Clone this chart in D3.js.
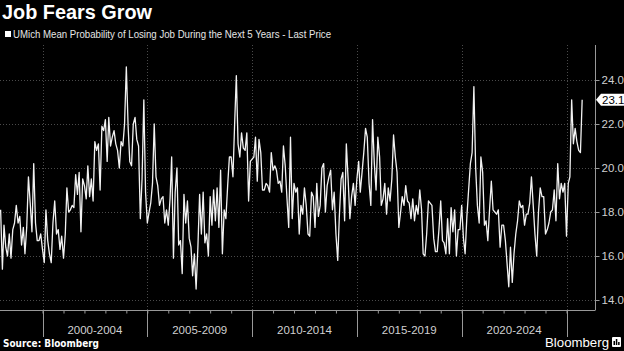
<!DOCTYPE html>
<html>
<head>
<meta charset="utf-8">
<script src="https://cdn.jsdelivr.net/npm/d3@7"></script>
<style>
  html, body { margin: 0; padding: 0; background: #000; }
  svg { display: block; }
</style>
</head>
<body>
<div id="chart"></div>
<script>
// monthly readings, Jan 1998 onwards (one row per year)
const values = [
  18.1, 15.4, 17.4, 16.4, 16.0, 17.0, 15.9, 17.2, 17.5, 18.3, 17.5, 17.8,
  16.5, 17.3, 16.1, 17.3, 19.6, 18.4, 17.1, 20.2, 17.5, 16.7, 16.7, 17.0,
  16.3, 15.7, 18.1, 16.7, 16.1, 15.7, 17.5, 18.5, 17.0, 17.2, 16.3, 16.9,
  15.9, 17.0, 19.1, 18.0, 18.1, 18.3, 18.2, 19.7, 18.8, 19.8, 17.1, 19.5,
  19.2, 18.6, 20.1, 18.7, 19.5, 18.5, 21.2, 20.8, 21.1, 19.0, 21.9, 21.7,
  22.2, 20.3, 22.3, 21.0, 21.4, 21.7, 21.1, 20.8, 20.0, 21.2, 21.0, 22.0,
  24.6, 21.9, 20.3, 20.1, 22.0, 22.3, 21.3, 21.0, 17.7, 19.5, 23.1, 18.9,
  17.5, 18.0, 18.4, 19.3, 22.0, 19.6, 19.2, 18.3, 18.6, 18.7, 17.5, 18.1,
  17.4, 18.6, 20.5, 15.9, 18.9, 20.0, 16.5, 16.7, 15.2, 18.8, 17.5, 18.5,
  16.8, 16.4, 15.1, 16.1, 14.5, 16.4, 18.8, 17.0, 18.9, 16.6, 17.0, 16.0,
  18.7, 17.4, 19.0, 17.6, 19.1, 17.3, 19.9, 16.1, 18.1, 17.7, 19.2, 20.5,
  20.5, 19.6, 21.9, 24.2, 21.1, 20.5, 21.6, 20.9, 20.8, 21.6, 18.5, 20.3,
  20.4, 20.5, 21.4, 19.4, 21.3, 20.7, 19.0, 19.0, 19.3, 19.2, 18.9, 20.7,
  19.9, 20.1, 19.9, 19.3, 19.4, 18.9, 21.0, 20.1, 18.6, 17.3, 21.4, 17.7,
  19.3, 18.9, 19.1, 17.0, 18.3, 17.9, 19.1, 18.3, 17.0, 16.9, 18.9, 18.7,
  17.3, 19.3, 17.8, 18.3, 20.0, 20.2, 18.0, 19.2, 19.6, 19.9, 18.1, 18.9,
  17.0, 15.8, 17.8, 19.5, 19.8, 17.6, 21.1, 19.5, 17.7, 18.7, 19.3, 18.3,
  19.5, 20.3, 18.9, 19.8, 20.7, 21.8, 21.4, 19.3, 18.3, 22.2, 20.2, 19.0,
  21.4, 20.5, 18.3, 18.6, 19.3, 17.9, 19.1, 18.5, 19.5, 21.5, 20.5, 19.8,
  17.3, 18.0, 18.7, 18.3, 19.2, 18.5, 18.4, 17.7, 18.6, 17.6, 18.3, 17.9,
  19.0, 18.1, 16.1, 16.0, 17.0, 18.5, 18.4, 18.3, 16.8, 16.2, 16.2, 17.2,
  18.5, 16.7, 16.6, 16.1, 17.7, 16.1, 18.2, 17.1, 18.1, 16.0, 17.2, 17.2,
  18.3, 16.8, 16.1, 17.8, 19.0, 20.2, 20.7, 23.7, 20.0, 18.3, 17.5, 20.5,
  19.8, 17.4, 17.6, 16.7, 18.1, 19.4, 18.1, 18.0, 17.9, 18.1, 16.4, 17.4,
  17.4, 16.7, 15.7, 14.6, 16.4, 14.8, 16.1, 17.0, 17.6, 18.5, 18.2, 18.3,
  17.4, 17.9, 17.9, 18.4, 19.6, 18.3, 17.0, 16.0, 18.0, 19.1, 18.7, 18.7,
  17.0, 17.2, 17.5, 18.0, 18.1, 19.0, 17.6, 20.2, 18.6, 19.3, 18.9, 19.3,
  16.9, 19.3, 19.6, 23.1, 21.1, 21.8, 21.2, 20.8, 20.7, 23.1
]
const start_year = 1998
const y_ticks = [14, 16, 18, 20, 22, 24]
const periods = ['2000-2004', '2005-2009', '2010-2014', '2015-2019', '2020-2024']
const period_starts = [2000, 2005, 2010, 2015, 2020, 2025]
const last_price = '23.1'

const width = 624, height = 351
const plot = { left: 0, right: 595, top: 45, bottom: 310 }

const data = values.map((v, i) => ({ date: new Date(start_year, i, 1), value: v }))

const svg = d3.select('#chart').append('svg')
    .attr('width', width)
    .attr('height', height)
    .style('font-family', '"Liberation Sans", Arial, sans-serif')

svg.append('rect').attr('width', width).attr('height', height).attr('fill', '#000')

// scales
const x = d3.scaleTime()
    .domain([new Date(2000, 0, 1), new Date(2025, 0, 1)])
    .range([42.5, 566.5])
const y = d3.scaleLinear().domain([14, 24]).range([300, 80])

// titles
svg.append('text')
    .attr('x', 2).attr('y', 19)
    .attr('fill', '#fff')
    .attr('font-size', 20).attr('font-weight', 'bold')
    .attr('textLength', 150).attr('lengthAdjust', 'spacingAndGlyphs')
    .text('Job Fears Grow')

svg.append('rect').attr('x', 5).attr('y', 31).attr('width', 6).attr('height', 6).attr('fill', '#fff')
svg.append('text')
    .attr('x', 13).attr('y', 38)
    .attr('fill', '#e6e6e6')
    .attr('font-size', 10.5)
    .attr('textLength', 318).attr('lengthAdjust', 'spacingAndGlyphs')
    .text('UMich Mean Probability of Losing Job During the Next 5 Years - Last Price')

// grid
const grid = svg.append('g')
    .attr('stroke', '#4a4a4a').attr('stroke-dasharray', '1,2').attr('stroke-width', 1)
grid.selectAll('.hgrid').data(y_ticks).join('line')
    .attr('x1', plot.left).attr('x2', plot.right)
    .attr('y1', d => Math.round(y(d)) + 0.5).attr('y2', d => Math.round(y(d)) + 0.5)
grid.selectAll('.vgrid').data(period_starts).join('line')
    .attr('x1', d => Math.round(x(new Date(d, 0, 1))) + 0.5)
    .attr('x2', d => Math.round(x(new Date(d, 0, 1))) + 0.5)
    .attr('y1', plot.top).attr('y2', plot.bottom)

// right axis
const y_axis = d3.axisRight(y)
    .tickValues(y_ticks)
    .tickSize(4)
    .tickPadding(2)
    .tickFormat(d3.format('.1f'))
svg.append('g')
    .attr('transform', 'translate(' + (plot.right + 0.5) + ',0)')
    .call(y_axis)
    .call(g => g.select('.domain').remove())
    .call(g => g.selectAll('line').attr('stroke', '#999'))
    .call(g => g.selectAll('text').attr('fill', '#d0d0d0').attr('font-size', 11.5)
        .attr('font-family', '"Liberation Sans", Arial, sans-serif'))
svg.append('line')
    .attr('x1', plot.right + 0.5).attr('x2', plot.right + 0.5)
    .attr('y1', plot.top).attr('y2', plot.bottom)
    .attr('stroke', '#999')

// bottom axis: yearly minor ticks, longer separators between periods
const x_axis = d3.axisBottom(x)
    .ticks(d3.timeYear.every(1))
    .tickSize(3)
    .tickFormat('')
svg.append('g')
    .attr('transform', 'translate(0,' + (plot.bottom + 0.5) + ')')
    .call(x_axis)
    .call(g => g.select('.domain').attr('stroke', '#999').attr('d', 'M0,0H' + (plot.right + 0.5)))
    .call(g => g.selectAll('line').attr('stroke', '#999'))

svg.selectAll('.sep').data(period_starts).join('line')
    .attr('x1', d => Math.round(x(new Date(d, 0, 1))) + 0.5)
    .attr('x2', d => Math.round(x(new Date(d, 0, 1))) + 0.5)
    .attr('y1', plot.bottom).attr('y2', 337)
    .attr('stroke', '#999')

svg.selectAll('.period').data(periods).join('text')
    .attr('x', (d, i) => (x(new Date(period_starts[i], 0, 1)) + x(new Date(period_starts[i + 1], 0, 1))) / 2)
    .attr('y', 334)
    .attr('text-anchor', 'middle')
    .attr('fill', '#d0d0d0')
    .attr('font-size', 11.5)
    .text(d => d)

// the series
svg.append('path')
    .datum(data)
    .attr('fill', 'none')
    .attr('stroke', '#f2f2f2')
    .attr('stroke-width', 1.3)
    .attr('stroke-linejoin', 'round')
    .attr('d', d3.line().x(d => x(d.date)).y(d => y(d.value)))

// last price tag
const last = data[data.length - 1]
const ly = y(last.value)
svg.append('path')
    .attr('d', 'M' + (plot.right + 1) + ',' + ly + 'L' + (plot.right + 6) + ',' + (ly - 6) +
        'H' + width + 'V' + (ly + 6) + 'H' + (plot.right + 6) + 'Z')
    .attr('fill', '#fff')
svg.append('text')
    .attr('x', plot.right + 7).attr('y', ly + 4)
    .attr('fill', '#000')
    .attr('font-size', 11.5)
    .text(last_price)

// footer
svg.append('text')
    .attr('x', 3).attr('y', 347)
    .attr('fill', '#fff')
    .attr('font-size', 10).attr('font-weight', 'bold')
    .attr('font-family', '"DejaVu Sans", sans-serif')
    .attr('textLength', 96).attr('lengthAdjust', 'spacingAndGlyphs')
    .text('Source: Bloomberg')

svg.append('text')
    .attr('x', 609).attr('y', 347)
    .attr('text-anchor', 'end')
    .attr('fill', '#fff')
    .attr('font-size', 13)
    .attr('textLength', 64).attr('lengthAdjust', 'spacingAndGlyphs')
    .text('Bloomberg')
// small logo box
svg.append('rect').attr('x', 612).attr('y', 337).attr('width', 9).attr('height', 10).attr('rx', 1).attr('fill', '#fff')
svg.selectAll('.logobar').data([4, 6, 3]).join('rect')
    .attr('x', (d, i) => 613.5 + i * 2.3)
    .attr('y', d => 345 - d)
    .attr('width', 1.5)
    .attr('height', d => d)
    .attr('fill', '#000')
</script>
</body>
</html>
